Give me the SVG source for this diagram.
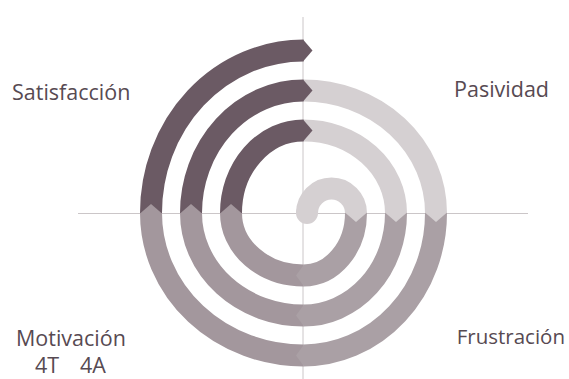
<svg xmlns="http://www.w3.org/2000/svg" width="569" height="379" viewBox="0 0 569 379">
  <style>
    .axis { stroke: #cbc6c8; stroke-width: 1; fill: none; }
    .band { fill: none; stroke-width: 22; stroke-linecap: butt; }
    .light { stroke: #d5d0d2; }
    .medA { stroke: #aaa0a5; }
    .medB { stroke: #a3979d; }
    .dark { stroke: #6b5a64; }
    .fLight { fill: #d5d0d2; }
    .fMedA { fill: #aaa0a5; }
    .fMedB { fill: #a3979d; }
    .fDark { fill: #6b5a64; }
    .lbl { font-family: "Open Sans", "Noto Sans", sans-serif; font-size: 21.5px; fill: #574a52; }
  </style>
  <rect width="569" height="379" fill="#ffffff"/>
  <g id="axes">
    <line class="axis" x1="303" y1="17" x2="303" y2="379"/>
    <line class="axis" x1="78" y1="213.5" x2="528" y2="213.5"/>
  </g>
  <g id="spiral">
    <!-- top-right (light) -->
    <circle class="fLight" cx="307" cy="213" r="11"/>
    <path class="band light" d="M 307 213 A 24.5 24.5 0 0 1 356 213"/>
    <path class="band light" d="M 303.5 130.5 A 92.5 82.5 0 0 1 396 213"/>
    <path class="band light" d="M 303.5 90.5 A 132.5 122.5 0 0 1 436 213"/>
    <!-- bottom-right -->
    <path class="band medA" d="M 356 213 A 52.5 62.5 0 0 1 303.5 275.5"/>
    <path class="band medA" d="M 396 213 A 92.5 102.5 0 0 1 303.5 315.5"/>
    <path class="band medA" d="M 436 213 A 132.5 142.5 0 0 1 303.5 355.5"/>
    <!-- bottom-left -->
    <path class="band medB" d="M 303.5 275.5 A 72.5 62.5 0 0 1 231 213"/>
    <path class="band medB" d="M 303.5 315.5 A 112.5 102.5 0 0 1 191 213"/>
    <path class="band medB" d="M 303.5 355.5 A 152.5 142.5 0 0 1 151 213"/>
    <!-- top-left (dark) -->
    <path class="band dark" d="M 231 213 A 72.5 82.5 0 0 1 303.5 130.5"/>
    <path class="band dark" d="M 191 213 A 112.5 122.5 0 0 1 303.5 90.5"/>
    <path class="band dark" d="M 151 213 A 152.5 162.5 0 0 1 303.5 50.5"/>
    <!-- chevrons -->
    <polygon class="fLight" points="345,212.5 356,222 367,212.5"/>
    <polygon class="fLight" points="385,212.5 396,222 407,212.5"/>
    <polygon class="fLight" points="425,212.5 436,222 447,212.5"/>
    <polygon class="fMedA" points="304,264.5 296,275.5 304,286.5"/>
    <polygon class="fMedA" points="304,304.5 296,315.5 304,326.5"/>
    <polygon class="fMedA" points="304,344.5 296,355.5 304,366.5"/>
    <polygon class="fMedB" points="220,213.5 231,204 242,213.5"/>
    <polygon class="fMedB" points="180,213.5 191,204 202,213.5"/>
    <polygon class="fMedB" points="140,213.5 151,204 162,213.5"/>
    <polygon class="fDark" points="303,119.5 312.5,130.5 303,141.5"/>
    <polygon class="fDark" points="303,79.5 312.5,90.5 303,101.5"/>
    <polygon class="fDark" points="303,39.5 312.5,50.5 303,61.5"/>
  </g>
  <g id="label-satisfaccion"><text class="lbl" x="12" y="100">Satisfacción</text></g>
  <g id="label-pasividad"><text class="lbl" x="454" y="97">Pasividad</text></g>
  <g id="label-motivacion">
    <text class="lbl" x="16" y="346">Motivación</text>
    <text class="lbl" x="35" y="373">4T</text>
    <text class="lbl" x="80" y="373">4A</text>
  </g>
  <g id="label-frustracion"><text class="lbl" x="565" y="344" text-anchor="end" style="font-size:20.5px">Frustración</text></g>
</svg>
